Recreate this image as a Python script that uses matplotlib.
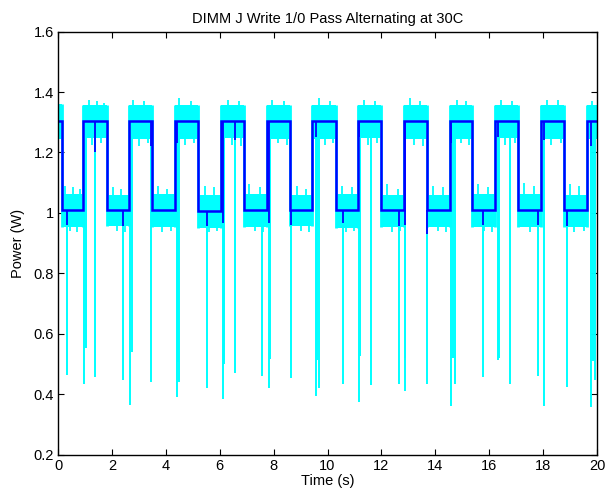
import matplotlib
matplotlib.use("Agg")
import matplotlib.pyplot as plt

# ---- data ----
# segment boundaries (s) of the alternating 1/0 pattern
edges = [0.00, 0.13, 0.94, 1.81, 2.63, 3.50, 4.34, 5.21, 6.05, 6.91, 7.74,
         8.61, 9.44, 10.32, 11.12, 11.99, 12.84, 13.68, 14.55, 15.38, 16.22,
         17.08, 17.92, 18.79, 19.62, 20.00]
# smoothed (dark blue) power level of each segment (W)
mean_level = [1.305, 1.010, 1.305, 1.010, 1.305, 1.010, 1.305, 1.005, 1.305,
              1.010, 1.305, 1.010, 1.305, 1.010, 1.305, 1.010, 1.305, 1.010,
              1.305, 1.010, 1.305, 1.008, 1.305, 1.010, 1.305]
# raw (cyan) dense noise band of each segment (W)
band_low = [1.245, 0.953, 1.247, 0.955, 1.245, 0.953, 1.245, 0.951, 1.247,
            0.953, 1.245, 0.955, 1.245, 0.951, 1.247, 0.953, 1.245, 0.953,
            1.245, 0.953, 1.247, 0.953, 1.245, 0.953, 1.245]
band_high = [1.360, 1.063, 1.356, 1.060, 1.358, 1.063, 1.356, 1.060, 1.358,
             1.063, 1.356, 1.060, 1.358, 1.063, 1.356, 1.060, 1.358, 1.060,
             1.356, 1.063, 1.358, 1.063, 1.356, 1.060, 1.356]
# upward noise peaks of the raw trace: time (s) and maximum (W)
peak_t = [0.25, 0.55, 0.80, 1.15, 1.45, 1.70, 2.05, 2.35, 2.80, 3.20, 3.70,
          4.05, 4.50, 4.95, 5.45, 5.80, 6.30, 6.70, 7.10, 7.50, 7.95, 8.40,
          8.85, 9.20, 9.70, 10.10, 10.55, 10.90, 11.35, 11.75, 12.20, 12.60,
          13.05, 13.45, 13.90, 14.30, 14.80, 15.15, 15.60, 15.95, 16.45,
          16.85, 17.30, 17.65, 18.15, 18.55, 19.00, 19.35, 19.80]
peak_max = [1.090, 1.085, 1.080, 1.375, 1.370, 1.365, 1.085, 1.080, 1.375,
            1.370, 1.090, 1.080, 1.380, 1.370, 1.090, 1.085, 1.375, 1.370,
            1.095, 1.085, 1.375, 1.370, 1.090, 1.080, 1.380, 1.370, 1.090,
            1.085, 1.375, 1.370, 1.095, 1.080, 1.380, 1.370, 1.090, 1.085,
            1.375, 1.370, 1.095, 1.085, 1.375, 1.370, 1.100, 1.090, 1.375,
            1.375, 1.095, 1.090, 1.370]
# downward noise streaks of the raw trace: time (s) and minimum (W)
low_t = [0.45, 0.70, 1.25, 1.60, 2.20, 2.50, 3.00, 3.35, 3.85, 4.20, 4.70,
         5.05, 5.60, 5.90, 6.45, 6.80, 7.30, 7.60, 8.15, 8.50, 9.00, 9.30,
         9.90, 10.20, 10.70, 11.00, 11.50, 11.85, 12.40, 12.70, 13.20, 13.55,
         14.10, 14.40, 14.95, 15.25, 15.80, 16.10, 16.60, 16.95, 17.50,
         17.80, 18.30, 18.65, 19.15, 19.50]
low_min = [0.940, 0.935, 1.225, 1.230, 0.940, 0.935, 1.220, 1.230, 0.935,
           0.940, 1.225, 1.230, 0.935, 0.940, 1.225, 1.220, 0.940, 0.935,
           1.230, 1.225, 0.940, 0.935, 1.225, 1.230, 0.935, 0.940, 1.225,
           1.230, 0.935, 0.940, 1.225, 1.220, 0.940, 0.935, 1.230, 1.225,
           0.940, 0.935, 1.225, 1.230, 0.935, 0.940, 1.225, 1.230, 0.935,
           0.940]
# downward glitches in the raw trace: time (s) and minimum (W)
spike_t = [0.35, 0.965, 1.02, 1.39, 2.42, 2.67, 2.73, 3.46, 4.40, 4.44, 4.48,
           5.52, 6.11, 6.16, 6.56, 7.58, 7.84, 7.87, 8.63, 9.56, 9.62, 9.67,
           10.58, 11.17, 11.19, 11.61, 12.64, 12.86, 12.88, 13.68, 14.60,
           14.65, 14.72, 15.76, 16.33, 16.36, 16.79, 17.82, 18.05, 18.87,
           19.79, 19.84, 19.91]
spike_min = [0.464, 0.435, 0.551, 0.455, 0.448, 0.365, 0.538, 0.441, 0.392,
             0.505, 0.441, 0.420, 0.385, 0.500, 0.471, 0.460, 0.419, 0.516,
             0.454, 0.395, 0.514, 0.420, 0.432, 0.375, 0.525, 0.430, 0.432,
             0.410, 0.520, 0.435, 0.362, 0.520, 0.432, 0.457, 0.514, 0.520,
             0.435, 0.460, 0.360, 0.422, 0.358, 0.510, 0.447]
# small dips of the smoothed trace: time (s) and minimum (W)
dip_t = [0.35, 1.39, 2.42, 3.46, 4.40, 5.52, 6.11, 6.56, 7.84, 8.63, 9.56,
         10.58, 11.17, 12.64, 12.86, 13.68, 14.60, 15.76, 16.33, 17.82,
         18.05, 18.87, 19.79]
dip_min = [0.960, 1.200, 0.955, 1.220, 1.230, 0.955, 0.965, 1.240, 0.965,
           0.960, 1.250, 0.965, 1.250, 0.955, 0.960, 0.930, 1.230, 0.960,
           1.250, 0.960, 1.240, 0.955, 1.220]

title = "DIMM J Write 1/0 Pass Alternating at 30C"
xlabel = "Time (s)"
ylabel = "Power (W)"
xticks = [0, 2, 4, 6, 8, 10, 12, 14, 16, 18, 20]
yticks = [0.2, 0.4, 0.6, 0.8, 1.0, 1.2, 1.4, 1.6]
ytick_labels = ["0.2", "0.4", "0.6", "0.8", "1", "1.2", "1.4", "1.6"]

plt.rcParams['font.family'] = ['Liberation Sans', 'DejaVu Sans']

fig = plt.figure(figsize=(6.07, 4.91), dpi=100)
ax = fig.add_axes([0.0956, 0.0743, 0.8879, 0.8613])

CYAN = '#00ffff'
BLUE = '#0000ff'


def seg_of(t):
    return max(j for j in range(len(mean_level)) if edges[j] <= t)


# raw trace: dense noise bands per segment
for i in range(len(mean_level)):
    ax.fill_between([edges[i], edges[i + 1]], band_low[i], band_high[i],
                    color=CYAN, lw=0, zorder=2)
# raw trace transitions
for i in range(1, len(edges) - 1):
    lo = min(band_low[i - 1], band_low[i])
    hi = max(band_high[i - 1], band_high[i])
    ax.vlines(edges[i], lo, hi, color=CYAN, lw=2.0, zorder=2)
# noise peaks and streaks
for t, m in zip(peak_t, peak_max):
    ax.vlines(t, band_high[seg_of(t)], m, color=CYAN, lw=1.3, zorder=2)
for t, m in zip(low_t, low_min):
    ax.vlines(t, m, band_low[seg_of(t)], color=CYAN, lw=1.3, zorder=2)
# raw trace glitches
for t, m in zip(spike_t, spike_min):
    ax.vlines(t, m, band_low[seg_of(t)], color=CYAN, lw=1.4, zorder=2)

# smoothed trace
ax.stairs(mean_level, edges, baseline=None, color=BLUE, lw=1.8, zorder=3)
for t, m in zip(dip_t, dip_min):
    ax.vlines(t, m, mean_level[seg_of(t)], color=BLUE, lw=1.3, zorder=3)

ax.set_xlim(0, 20)
ax.set_ylim(0.2, 1.6)
ax.set_xticks(xticks)
ax.set_xticklabels([str(v) for v in xticks])
ax.set_yticks(yticks)
ax.set_yticklabels(ytick_labels)
ax.tick_params(direction='in', top=True, right=True, length=4, width=0.8,
               labelsize=10.5, pad=3)
for s in ax.spines.values():
    s.set_linewidth(1.0)
    s.set_zorder(5)

ax.set_title(title, fontsize=10.5, pad=6)
ax.set_xlabel(xlabel, fontsize=10.5, labelpad=1)
ax.set_ylabel(ylabel, fontsize=10.5, labelpad=6)

fig.savefig("out.png", dpi=100)
